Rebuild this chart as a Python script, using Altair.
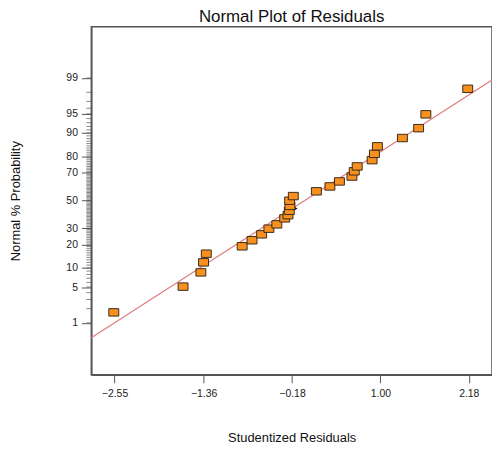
import altair as alt
import pandas as pd
from statistics import NormalDist

nd = NormalDist()

# Studentized residuals (x) and their normal % probabilities (y)
residuals = [-2.56, -1.635, -1.397, -1.361, -1.325, -0.846, -0.714, -0.586, -0.489, -0.383,
             -0.278, -0.234, -0.216, -0.208, -0.212, -0.163, 0.145, 0.326, 0.453, 0.620,
             0.651, 0.690, 0.889, 0.920, 0.960, 1.294, 1.510, 1.607, 2.166]
probabilities = [1.68, 5.09, 8.6, 12.0, 15.6, 19.2, 22.5, 26.0, 29.6, 32.5,
                 36.7, 39.0, 42.2, 45.9, 49.8, 53.3, 56.9, 60.5, 64.1, 67.5,
                 71.0, 74.1, 77.8, 81.2, 84.8, 88.2, 91.5, 94.9, 98.3]

# dark marker partly hidden behind the central points
highlight_x = [-0.15]
highlight_p = [43.9]

# axis ticks
x_ticks = [-2.55, -1.36, -0.18, 1.00, 2.18]
y_major = [1, 5, 10, 20, 30, 50, 70, 80, 90, 95, 99]
y_minor = list(range(1, 100))

# fitted reference line (z = slope * x + intercept)
fit_slope = 0.915
fit_intercept = 0.01

x_domain = [-2.86, 2.49]
z_domain = [-3.31, 3.30]

FONT = "Liberation Sans, Arial"

pts = pd.DataFrame({"x": residuals, "p": probabilities})
pts["z"] = [nd.inv_cdf(p / 100) for p in probabilities]

hl = pd.DataFrame({"x": highlight_x, "p": highlight_p})
hl["z"] = [nd.inv_cdf(p / 100) for p in highlight_p]

line_df = pd.DataFrame({"x": x_domain})
line_df["z"] = [fit_slope * v + fit_intercept for v in x_domain]

minor_df = pd.DataFrame({"p": y_minor})
minor_df["z"] = [nd.inv_cdf(p / 100) for p in y_minor]
minor_df["x"] = x_domain[0]

xs = alt.Scale(domain=x_domain, nice=False, zero=False)
zs = alt.Scale(domain=z_domain, nice=False, zero=False)

x_axis = alt.Axis(values=x_ticks, format=".2f", grid=False, tickSize=8,
                  labelPadding=6, labelFont=FONT, labelFontSize=10.5, labelColor="#222",
                  title="Studentized Residuals", titleFont=FONT, titleFontSize=13,
                  titleFontWeight="normal", titleColor="#111", titlePadding=33)
y_axis = alt.Axis(values=[nd.inv_cdf(p / 100) for p in y_major],
                  labelExpr="format(cumulativeNormal(datum.value)*100, '.0f')",
                  grid=False, tickSize=10, labelPadding=4,
                  labelFont=FONT, labelFontSize=10.5, labelColor="#222",
                  title="Normal % Probability", titleFont=FONT, titleFontSize=13,
                  titleFontWeight="normal", titleColor="#111", titlePadding=44)

X = alt.X("x:Q", scale=xs, axis=x_axis)
Y = alt.Y("z:Q", scale=zs, axis=y_axis)

minor = alt.Chart(minor_df).mark_tick(
    color="#555", thickness=1, size=5, orient="horizontal", xOffset=-2.5
).encode(x=X, y=Y)

fit = alt.Chart(line_df).mark_line(color="#E07F82", strokeWidth=1.3).encode(x=X, y=Y)

dark = alt.Chart(hl).mark_point(shape="triangle-right", filled=True, color="#111",
                                size=60, opacity=1).encode(x=X, y=Y)

points = alt.Chart(pts).mark_point(
    shape="M-1,-0.75H1V0.75H-1Z", filled=True, fill="#F7901E", stroke="#3a2a1a",
    strokeWidth=1, size=100, opacity=1,
).encode(x=X, y=Y)

chart = alt.layer(minor, fit, dark, points).properties(
    width=404, height=351,
    autosize=alt.AutoSizeParams(type="none"),
    padding={"left": 84, "top": 17, "right": 0, "bottom": 70},
    title=alt.Title("Normal Plot of Residuals", font=FONT, fontSize=17,
                    fontWeight="normal", color="#111", anchor="middle", offset=1),
).configure_view(
    stroke="#555", strokeWidth=1.5
).configure_axis(
    domainColor="#555", tickColor="#555", domainWidth=1.5
)

chart.save("out.html", embed_options={"renderer": "svg", "actions": False})
